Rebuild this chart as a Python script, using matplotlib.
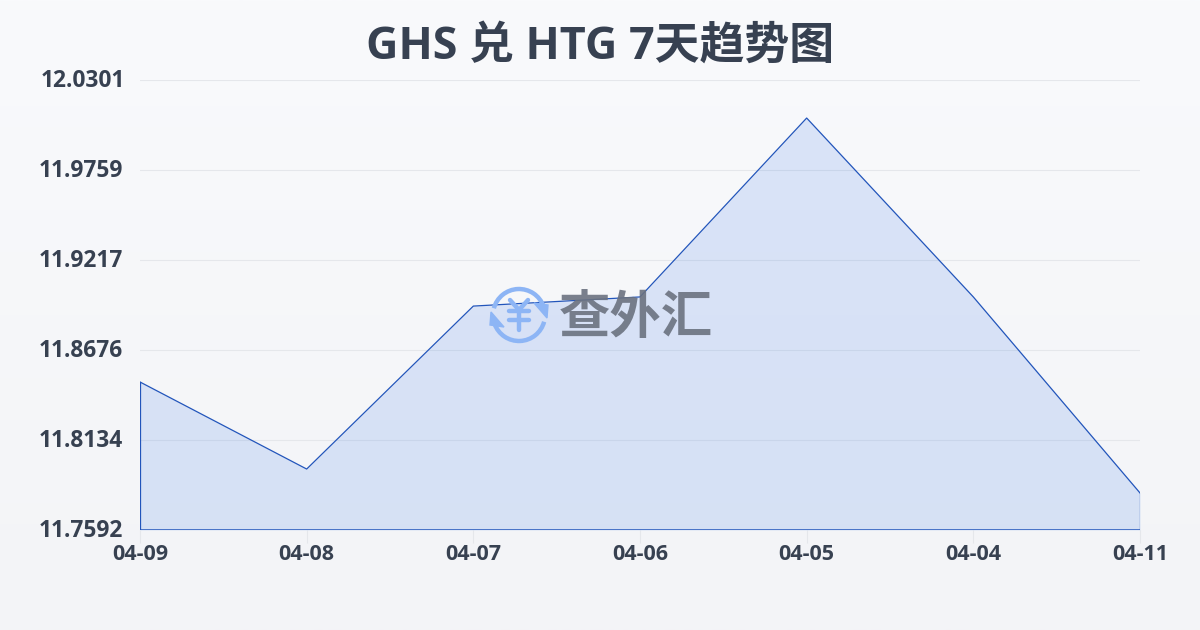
#!/usr/bin/env python3
import numpy as np
import matplotlib
matplotlib.use('Agg')
import matplotlib.pyplot as plt
from matplotlib.patches import Arc, Polygon
from matplotlib.transforms import ScaledTranslation

plt.rcParams['font.family'] = ['Open Sans', 'Noto Sans CJK SC', 'DejaVu Sans']

dates = ['04-09', '04-08', '04-07', '04-06', '04-05', '04-04', '04-11']
rates = [11.8483, 11.7959, 11.8940, 11.8995, 12.0072, 11.8995, 11.7815]
y_ticks = [11.7592, 11.8134, 11.8676, 11.9217, 11.9759, 12.0301]

TEXT = '#374151'
LINE = '#2255bb'

fig = plt.figure(figsize=(12, 6.3), dpi=100)

# page background, slightly darker towards the bottom
bg = fig.add_axes([0, 0, 1, 1], zorder=0)
bg.axis('off')
top = np.array([249, 250, 252]) / 255
bottom = np.array([243, 244, 247]) / 255
grad = np.linspace(0, 1, 256)[:, None, None] * (bottom - top) + top
bg.imshow(grad, aspect='auto', extent=[0, 1, 0, 1])

ax = fig.add_axes([140 / 1200, 1 - 530 / 630, 1000 / 1200, 450 / 630], zorder=1)
ax.patch.set_alpha(0)
x = np.arange(len(dates))
ax.fill_between(x, rates, y_ticks[0], color='#2f6fe8', alpha=0.15, lw=0, zorder=2)
ax.plot(x, rates, color=LINE, lw=0.9, zorder=3)
# outline closes down to the baseline
ax.plot([x[0], x[0]], [y_ticks[0], rates[0]], color=LINE, lw=0.9, zorder=3)
ax.plot([x[-1], x[-1]], [y_ticks[0], rates[-1]], color=LINE, lw=0.9, zorder=3)
ax.plot([x[0], x[-1]], [y_ticks[0], y_ticks[0]], color=LINE, lw=1.1, zorder=3)

ax.set_xlim(0, len(dates) - 1)
ax.set_ylim(y_ticks[0], y_ticks[-1])
ax.set_yticks(y_ticks)
ax.set_yticklabels([f'{v:.4f}' for v in y_ticks])
ax.set_xticks(x)
ax.set_xticklabels(dates)
ax.grid(axis='y', color='#e5e7eb', lw=0.8, zorder=1)
for s in ax.spines.values():
    s.set_visible(False)
ax.tick_params(axis='y', length=0, pad=12, labelsize=16.4, labelcolor=TEXT)
ax.tick_params(axis='x', length=9, width=0.8, color='#e5e7eb', pad=1, labelsize=15.5, labelcolor=TEXT)
shift = ScaledTranslation(0, 2 / 100, fig.dpi_scale_trans)
top_shift = ScaledTranslation(2 / 100, 2 / 100, fig.dpi_scale_trans)
ylabels = ax.get_yticklabels()
for lab in ylabels:
    lab.set_fontweight('bold')
    lab.set_transform(lab.get_transform() + (top_shift if lab is ylabels[-1] else shift))
for lab in ax.get_xticklabels():
    lab.set_fontweight('bold')

fig.text(0.5, 1 - 47 / 630, 'GHS 兑 HTG 7天趋势图', ha='center', va='center',
         fontsize=32.3, fontweight='bold', color=TEXT, zorder=5)

# watermark: round-arrow yen icon and site name
icon = fig.add_axes([488 / 1200, 1 - 346 / 630, 62 / 1200, 62 / 630], zorder=4)
icon.set_xlim(-31, 31)
icon.set_ylim(-31, 31)
icon.axis('off')
BLUE = '#8db5f5'
icon.add_patch(Arc((0, 0), 52, 52, theta1=20, theta2=165, color=BLUE, lw=3.2))
icon.add_patch(Arc((0, 0), 52, 52, theta1=200, theta2=345, color=BLUE, lw=3.2))
icon.add_patch(Polygon([[29, 10], [15, 12], [28, -3]], color=BLUE))
icon.add_patch(Polygon([[-29, -10], [-15, -12], [-28, 3]], color=BLUE))
# yen sign built from strokes
yen = dict(color=BLUE, lw=3.2, solid_capstyle='round')
icon.plot([-9, 0, 9], [15, 5, 15], **yen)
icon.plot([0, 0], [5, -15], **yen)
icon.plot([-10, 10], [4, 4], **yen)
icon.plot([-10, 10], [-5, -5], **yen)
fig.text(636 / 1200, 1 - 317 / 630, '查外汇', ha='center', va='center', fontsize=37,
         family=['Noto Sans CJK SC'], fontweight='bold', color='#6b7280', alpha=0.9, zorder=5)

fig.savefig('out.png', dpi=100)
